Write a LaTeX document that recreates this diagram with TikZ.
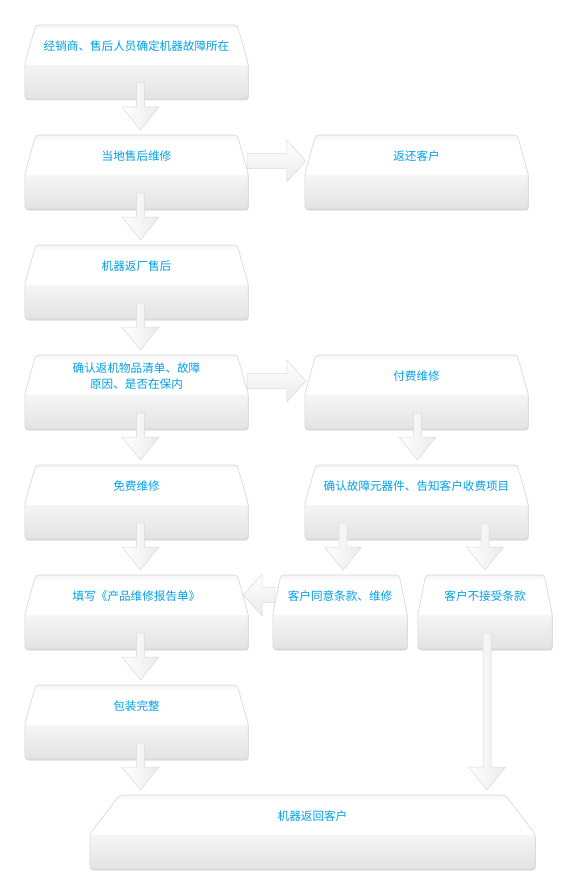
\documentclass[tikz,border=0pt]{standalone}
\usepackage{fontspec}
\setmainfont{Noto Sans CJK SC}
\usepackage{tikz}
\usetikzlibrary{calc,backgrounds}
\definecolor{stagetext}{RGB}{0,160,233}
\pgfdeclareverticalshading{stageshade}{100bp}{color(0bp)=(black!11); color(25bp)=(black!11);
  color(48bp)=(black!4); color(48.6bp)=(white); color(71bp)=(white); color(75bp)=(black!4); color(100bp)=(black!4)}
\tikzstyle{stage} = [rectangle, minimum width=223pt, inner sep=0pt, align=center,
  text=stagetext, font=\fontsize{11.6}{15.5}\selectfont]
\tikzstyle{narrow} = [minimum width=134pt]
\tikzstyle{wide} = [minimum width=445pt]
\tikzstyle{stageline} = [draw=black!16, line width=.6pt, rounded corners=3pt, shading=stageshade]
\tikzstyle{stageshadow} = [fill=black!30, opacity=.45, rounded corners=3pt]
\tikzstyle{downarrow} = [draw=black!15, line width=.5pt, left color=white, right color=black!8, line join=round]
\tikzstyle{sidearrow} = [draw=black!15, line width=.5pt, top color=white, bottom color=black!8, line join=round]
% box around a stage node: {node}{inset of the top corners}
\newcommand\stagebox[2]{%
  \path[stageshadow] let \p1=(#1.west), \p2=(#1.east) in
    (\x1+#2pt,\y1+19.5pt) -- (\x2-#2pt,\y1+19.5pt) -- (\x2+.5pt,\y1-19pt) -- (\x2+.5pt,\y1-54.5pt)
    -- (\x1+.5pt,\y1-54.5pt) -- (\x1+.5pt,\y1-19pt) -- cycle;
  \path[stageline] let \p1=(#1.west), \p2=(#1.east) in
    (\x1+#2pt,\y1+21pt) -- (\x2-#2pt,\y1+21pt) -- (\x2,\y1-18pt) -- (\x2,\y1-53pt)
    -- (\x1,\y1-53pt) -- (\x1,\y1-18pt) -- cycle;}
% block arrow downwards: [xshift]{node giving x}{from}{to}
\newcommand\downarr[4][0]{%
  \path[downarrow] let \p0=(#2.center), \p1=(#3.center), \p2=(#4.center),
    \p3=(\x0+#1pt,\y1-37pt), \p4=(\x0+#1pt,\y2+26pt) in
    (\x3-4pt,\y3) -- (\x3-4pt,\y4+23pt) -- (\x3-18.5pt,\y4+23pt) -- (\x4,\y4)
    -- (\x3+18.5pt,\y4+23pt) -- (\x3+4pt,\y4+23pt) -- (\x3+4pt,\y3) -- cycle;}
% block arrow sideways: [yshift]{from}{to}
\newcommand\sidearr[3][0]{%
  \path[sidearrow] let \p1=(#2), \p2=(#3), \n1={sign(\x2-\x1)} in
    (\x1,\y1+#1pt+7.5pt) -- (\x2-\n1*19pt,\y1+#1pt+7.5pt) -- (\x2-\n1*19pt,\y1+#1pt+21pt)
    -- (\x2,\y1+#1pt) -- (\x2-\n1*19pt,\y1+#1pt-21pt) -- (\x2-\n1*19pt,\y1+#1pt-7.5pt)
    -- (\x1,\y1+#1pt-7.5pt) -- cycle;}

\begin{document}
\begin{tikzpicture}[x=1pt, y=1pt, node distance=110pt]
  \useasboundingbox (0,0) rectangle (574,-888);
  % left column
  \node (dealer) [stage] at (136.5,-46) {经销商、售后人员确定机器故障所在};
  \node (local) [stage, below of=dealer] {当地售后维修};
  \node (factory) [stage, below of=local] {机器返厂售后};
  \node (check) [stage, below of=factory] {确认返机物品清单、故障\\原因、是否在保内};
  \node (free) [stage, below of=check] {免费维修};
  \node (report) [stage, below of=free] {填写《产品维修报告单》};
  \node (pack) [stage, below of=report] {包装完整};
  \node (back) [stage, wide, below of=pack, xshift=176pt] {机器返回客户};
  % right column
  \node (giveback) [stage, right of=local, node distance=280pt] {返还客户};
  \node (paid) [stage, right of=check, node distance=280pt] {付费维修};
  \node (fault) [stage, below of=paid] {确认故障元器件、告知客户收费项目};
  \node (agree) [stage, narrow, below of=fault, xshift=-76.5pt] {客户同意条款、维修};
  \node (refuse) [stage, narrow, below of=fault, xshift=68.5pt] {客户不接受条款};

  \begin{scope}[on background layer]
    \foreach \stg/\inset in {dealer/11, local/11, factory/11, check/11, free/11, report/11, pack/11,
        giveback/11, paid/11, fault/11, agree/8, refuse/8, back/30}
      \stagebox{\stg}{\inset};
  \end{scope}

  \downarr[4]{dealer}{dealer}{local}
  \downarr[4]{local}{local}{factory}
  \downarr[4]{factory}{factory}{check}
  \downarr[4]{check}{check}{free}
  \downarr[4]{free}{free}{report}
  \downarr[4]{report}{report}{pack}
  \downarr[4]{pack}{pack}{back}
  \downarr[1]{paid}{paid}{fault}
  \downarr[3]{agree}{fault}{agree}
  \downarr{refuse}{fault}{refuse}
  \downarr[2]{refuse}{refuse}{back}
  \sidearr[-5]{$(local.east)+(-1,0)$}{$(giveback.west)+(1,0)$}
  \sidearr[-5]{$(check.east)+(-1,0)$}{$(paid.west)+(1,0)$}
  \sidearr[1]{$(agree.west)+(2,0)$}{$(report.east)+(-5,0)$}
\end{tikzpicture}
\end{document}
